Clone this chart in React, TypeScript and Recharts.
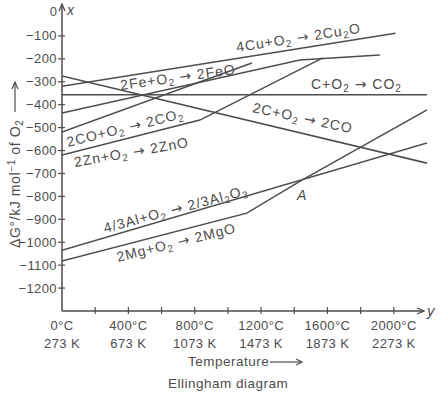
import React from 'react';
import { LineChart, Line, XAxis, YAxis } from 'recharts';

// Температура, °C (ось x) и ΔG°, кДж/моль O2 (ось y)
const tempTicks = [0, 200, 400, 600, 800, 1000, 1200, 1400, 1600, 1800, 2000];
const celsiusLabels = ['0°C', '400°C', '800°C', '1200°C', '1600°C', '2000°C'];
const kelvinLabels = ['273 K', '673 K', '1073 K', '1473 K', '1873 K', '2273 K'];
const gibbsTicks = [0, -100, -200, -300, -400, -500, -600, -700, -800, -900, -1000, -1100, -1200];

const cuLine = [{ t: 0, g: -320 }, { t: 2010, g: -88 }];
const feLine = [{ t: 0, g: -436 }, { t: 1434, g: -205 }, { t: 1916, g: -183 }];
const co2Line = [{ t: 0, g: -357 }, { t: 2200, g: -357 }];
const coLine = [{ t: 0, g: -275 }, { t: 2200, g: -655 }];
const coCo2Line = [{ t: 0, g: -519 }, { t: 1145, g: -218 }];
const znLine = [{ t: 0, g: -620 }, { t: 831, g: -467 }, { t: 1572, g: -196 }];
const alLine = [{ t: 0, g: -1035 }, { t: 2200, g: -567 }];
const mgLine = [{ t: 0, g: -1082 }, { t: 1114, g: -873 }, { t: 1446, g: -729 }, { t: 2200, g: -423 }];

const series = [cuLine, feLine, co2Line, coLine, coCo2Line, znLine, alLine, mgLine];

const INK = '#4d4d4d';
const FONT = '"Liberation Sans", Arial, sans-serif';
const ARROW_FONT = '"DejaVu Sans", sans-serif';
const AXIS_X = 62;
const AXIS_Y = 311;

// "O{2}" -> O с нижним индексом, "→" шрифтом DejaVu
const Chem = ({ text, x, y, angle = 0, size = 14 }: any) => {
  const parts = text.split(/\{([^}]+)\}/);
  let shift = 0;
  const out: any[] = [];
  parts.forEach((p: string, i: number) => {
    if (i % 2 === 1) {
      shift = 3;
      out.push(<tspan key={i} fontSize={size - 4} dy={3}>{p}</tspan>);
      return;
    }
    const bits = p.split('→');
    bits.forEach((b, j) => {
      const dy = -shift;
      shift = 0;
      if (j > 0) out.push(<tspan key={`${i}a${j}`} fontFamily={ARROW_FONT} dy={dy}>→</tspan>);
      if (b) out.push(<tspan key={`${i}b${j}`} dy={j > 0 ? 0 : dy}>{b}</tspan>);
      else if (j === 0 && dy) out.push(<tspan key={`${i}b${j}`} dy={dy}>{''}</tspan>);
    });
  });
  return (
    <text x={x} y={y} fontSize={size} fill={INK} fontFamily={FONT} letterSpacing={1}
      transform={`rotate(${angle} ${x} ${y})`}>
      {out}
    </text>
  );
};

const YTick = ({ y, payload }: any) => {
  if (payload.value === 0) {
    return <text x={57} y={y + 3} textAnchor="end" fontSize={13} fill={INK} fontFamily={FONT}>0</text>;
  }
  return (
    <g>
      <line x1={AXIS_X - 4} x2={AXIS_X + 3} y1={y} y2={y} stroke={INK} strokeWidth={1.2} />
      <text x={57} y={y + 4.5} textAnchor="end" fontSize={13} fill={INK} fontFamily={FONT} letterSpacing={0.4}>
        {`−${-payload.value}`}
      </text>
    </g>
  );
};

const XTick = ({ x, payload }: any) => {
  const idx = tempTicks.indexOf(payload.value);
  const labelled = idx % 2 === 0;
  return (
    <g>
      {payload.value !== 0 && <line x1={x} x2={x} y1={AXIS_Y - 4} y2={AXIS_Y + 3} stroke={INK} strokeWidth={1.2} />}
      {labelled && (
        <>
          <text x={x} y={330} textAnchor="middle" fontSize={13} fill={INK} fontFamily={FONT} letterSpacing={0.4}>{celsiusLabels[idx / 2]}</text>
          <text x={x} y={348} textAnchor="middle" fontSize={13} fill={INK} fontFamily={FONT} letterSpacing={0.4}>{kelvinLabels[idx / 2]}</text>
        </>
      )}
    </g>
  );
};

export default function App() {
  return (
    <div style={{ position: 'absolute', left: 0, top: 0, width: 447, height: 394, background: '#fff' }}>
      <LineChart width={447} height={394} margin={{ top: 13, right: 20, bottom: 43, left: 0 }}>
        <XAxis
          type="number"
          dataKey="t"
          domain={[0, 2200]}
          ticks={tempTicks}
          interval={0}
          tick={<XTick />}
          tickLine={false}
          axisLine={false}
          height={40}
          allowDataOverflow
        />
        <YAxis
          type="number"
          dataKey="g"
          domain={[-1300, 0]}
          ticks={gibbsTicks}
          interval={0}
          tick={<YTick />}
          tickLine={false}
          axisLine={false}
          width={62}
          allowDataOverflow
        />
        {series.map((d, i) => (
          <Line
            key={i}
            data={d}
            dataKey="g"
            type="linear"
            stroke={INK}
            strokeWidth={1.5}
            dot={false}
            isAnimationActive={false}
          />
        ))}
      </LineChart>

      {/* подписи и стрелки осей */}
      <svg width={447} height={394} style={{ position: 'absolute', left: 0, top: 0, pointerEvents: 'none' }}>
        <line x1={AXIS_X} x2={AXIS_X} y1={4} y2={AXIS_Y} stroke={INK} strokeWidth={1.5} />
        <polyline points={`${AXIS_X - 3},11 ${AXIS_X},4 ${AXIS_X + 3},11`} fill="none" stroke={INK} strokeWidth={1.3} />
        <line x1={AXIS_X} x2={424} y1={AXIS_Y} y2={AXIS_Y} stroke={INK} strokeWidth={1.5} />
        <polyline points={`417,${AXIS_Y - 3} 424,${AXIS_Y} 417,${AXIS_Y + 3}`} fill="none" stroke={INK} strokeWidth={1.3} />
        <text x={67} y={15} fontSize={14} fill={INK} fontFamily={FONT} fontStyle="italic">x</text>
        <text x={427} y={316} fontSize={15} fill={INK} fontFamily={FONT} fontStyle="italic">y</text>

        <Chem text="4Cu+O{2} → 2Cu{2}O" x={237} y={52} angle={-8.8} />
        <Chem text="2Fe+O{2} → 2FeO" x={121} y={90} angle={-8} />
        <Chem text="C+O{2} → CO{2}" x={311} y={89} />
        <Chem text="2C+O{2} → 2CO" x={252} y={112} angle={12} />
        <Chem text="2CO+O{2} → 2CO{2}" x={68} y={147} angle={-14} />
        <Chem text="2Zn+O{2} → 2ZnO" x={75} y={167} angle={-10} />
        <Chem text="4/3Al+O{2} → 2/3Al{2}O{3}" x={105} y={233} angle={-15} />
        <Chem text="2Mg+O{2} → 2MgO" x={118} y={262} angle={-14} />
        <text x={297} y={200} fontSize={14} fill={INK} fontFamily={FONT} fontStyle="italic">A</text>

        <text x={20} y={248} fontSize={14} fill={INK} fontFamily={FONT} letterSpacing={0.6} transform="rotate(-90 20 248)">
          ΔG°/kJ mol<tspan fontSize={10} dy={-5}>−1</tspan><tspan dy={5}> of O</tspan>
          <tspan fontSize={10} dy={3}>2</tspan>
        </text>
        <line x1={15} x2={15} y1={112} y2={83} stroke={INK} strokeWidth={1.2} />
        <polyline points="12,89 15,82 18,89" fill="none" stroke={INK} strokeWidth={1.2} />

        <text x={188} y={366} fontSize={13.5} fill={INK} fontFamily={FONT} letterSpacing={0.5}>Temperature</text>
        <line x1={270} x2={302} y1={362} y2={362} stroke={INK} strokeWidth={1.2} />
        <polyline points="296,359 302,362 296,365" fill="none" stroke={INK} strokeWidth={1.2} />
        <text x={168} y={388} fontSize={13.5} fill={INK} fontFamily={FONT} letterSpacing={0.5}>Ellingham diagram</text>
      </svg>
    </div>
  );
}
